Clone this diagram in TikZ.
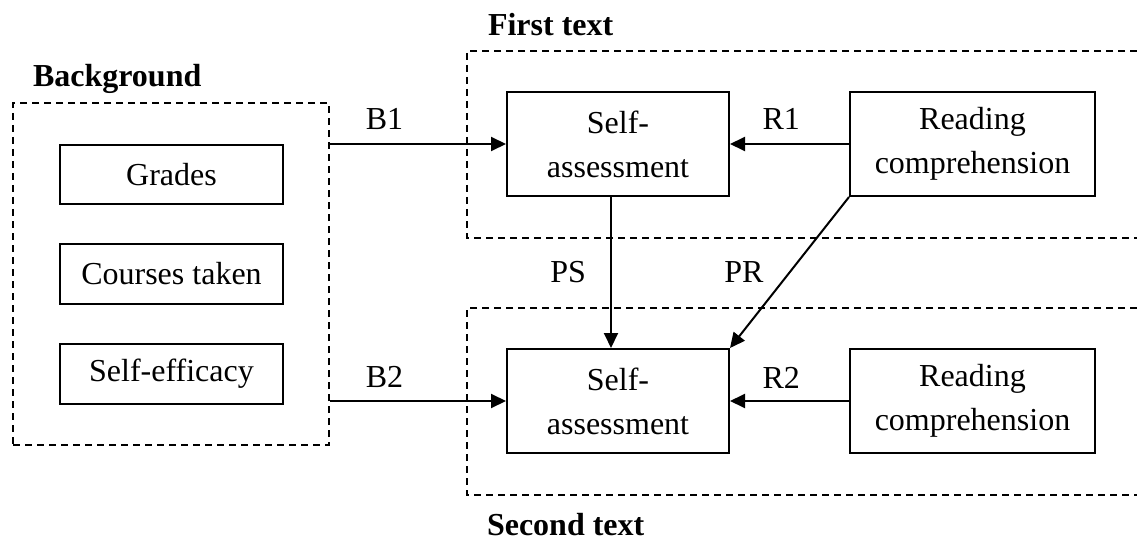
\documentclass[tikz,border=0pt]{standalone}
\usepackage{fontspec}
\setmainfont{Liberation Serif}
\usepackage{tikz}
\usetikzlibrary{
  arrows.meta,
  positioning
}
\tikzset{every picture/.style={line width=2pt}}
\tikzset{
  varbox/.style={draw, rectangle, align=center, inner sep=0pt,
    font=\fontsize{32}{44}\selectfont},
  grouplabel/.style={anchor=base west, inner sep=0pt,
    font=\fontsize{32}{38}\selectfont\bfseries},
  pathlabel/.style={inner sep=0pt, font=\fontsize{32}{38}\selectfont},
  groupline/.style={dash pattern=on 7pt off 5pt, line width=1.8pt},
  link/.style={-{Triangle[length=15pt,width=14pt]}}
}

\begin{document}
\begin{tikzpicture}[x=1pt,y=-1pt]
\useasboundingbox (0,0) rectangle (1137,540);

% Background
\node[grouplabel] (bglabel) at (32,87) {Background};
\node[draw, groupline, minimum width=316pt, minimum height=342pt, inner sep=0pt] (bg) at (171,274) {};
\node[varbox, minimum width=223pt, minimum height=59pt] (grades) at (171.5,174.5) {Grades};
\node[varbox, minimum width=223pt, minimum height=60pt] (courses) at (171.5,274) {Courses taken};
\node[varbox, minimum width=223pt, minimum height=60pt] (efficacy) at (171.5,374) {Self-efficacy};

% First text
\node[grouplabel] (firstlabel) at (487,36) {First text};
\draw[groupline] (1137,51) -| (467,238) -- (1137,238);
\node[varbox, minimum width=222pt, minimum height=104pt] (selfA) at (618,144) {Self-\\assessment};
\node[varbox, minimum width=245pt, minimum height=104pt] (readA) at (972.5,144) {Reading\\comprehension};

% Second text
\node[grouplabel] (secondlabel) at (486,535) {Second text};
\draw[groupline] (1137,308) -| (467,495) -- (1137,495);
\node[varbox, minimum width=222pt, minimum height=104pt] (selfB) at (618,401) {Self-\\assessment};
\node[varbox, minimum width=245pt, minimum height=104pt] (readB) at (972.5,401) {Reading\\comprehension};

% Paths
\draw[link] (bg.east |- selfA.west) -- node[pathlabel, pos=.31, above=13pt] (b1) {B1} (selfA.west);
\draw[link] (bg.east |- selfB.west) -- node[pathlabel, pos=.31, above=12pt] (b2) {B2} (selfB.west);
\draw[link] (readA.west) -- node[pathlabel, pos=.57, above=13pt] (r1) {R1} (selfA.east);
\draw[link] (readB.west) -- node[pathlabel, pos=.57, above=12pt] (r2) {R2} (selfB.east);
\draw[link] ([xshift=-7pt]selfA.south) -- node[pathlabel, left=24pt] (ps) {PS} ([xshift=-7pt]selfB.north);
\draw[link] (readA.south west) -- node[pathlabel, left=25pt] (pr) {PR} (selfB.north east);
\end{tikzpicture}
\end{document}
